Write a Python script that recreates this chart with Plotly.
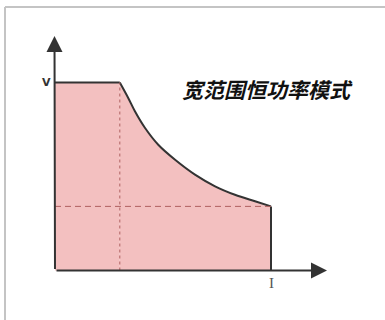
import plotly.graph_objects as go

# constant power region: current (I) vs voltage (V)
flat_current = [0, 3.0]
flat_voltage = [10, 10]
curve_current = [3.0, 3.39, 3.70, 4.17, 4.78, 5.56, 6.48, 7.41, 8.33, 9.26, 10]
curve_voltage = [10, 9.18, 8.47, 7.58, 6.69, 5.89, 5.10, 4.48, 4.03, 3.68, 3.41]
i_break = 3.0
i_max = 10
v_min = 3.41
title = "宽范围恒功率模式"

# pixel layout helpers (figure is 385x320, zero margins)
W, H = 385, 320
X0, Y0 = 55, 270.5      # origin in pixels
SX, SY = 21.6, 18.8     # pixels per unit


def px_x(p):
    return (p - X0) / SX


def px_y(p):
    return (Y0 - p) / SY


fill_col = "rgb(243,192,192)"
edge_col = "#333333"
dash_col = "rgb(175,95,95)"

fig = go.Figure()

fig.add_trace(go.Scatter(x=flat_current, y=flat_voltage, mode="lines",
                         line=dict(color=edge_col, width=2),
                         fill="tozeroy", fillcolor=fill_col, hoverinfo="skip"))
fig.add_trace(go.Scatter(x=curve_current, y=curve_voltage, mode="lines",
                         line=dict(color=edge_col, width=2, shape="spline", smoothing=1.0),
                         fill="tozeroy", fillcolor=fill_col, hoverinfo="skip"))
# right edge
fig.add_trace(go.Scatter(x=[i_max, i_max], y=[curve_voltage[-1], 0], mode="lines",
                         line=dict(color=edge_col, width=2), hoverinfo="skip"))
# dashed guides
fig.add_trace(go.Scatter(x=[i_break, i_break], y=[0, flat_voltage[-1]], mode="lines",
                         line=dict(color=dash_col, width=1, dash="3px,3px"), hoverinfo="skip"))
fig.add_trace(go.Scatter(x=[0, i_max], y=[v_min, v_min], mode="lines",
                         line=dict(color=dash_col, width=1, dash="6px,4px"), hoverinfo="skip"))

# axes with arrows
fig.add_annotation(x=px_x(54.5), y=px_y(36), ax=0, ay=0, axref="x", ayref="y",
                   xref="x", yref="y", showarrow=True, arrowhead=2, arrowsize=1.6,
                   arrowwidth=2, arrowcolor=edge_col, text="")
fig.add_annotation(x=px_x(327), y=0, ax=0, ay=0, axref="x", ayref="y",
                   xref="x", yref="y", showarrow=True, arrowhead=2, arrowsize=1.6,
                   arrowwidth=2, arrowcolor=edge_col, text="")

fig.add_annotation(x=px_x(46), y=flat_voltage[0], text="<b>V</b>", showarrow=False,
                   font=dict(family="DejaVu Sans", size=11, color="#333333"))
fig.add_annotation(x=i_max, y=px_y(283), text="I", showarrow=False,
                   font=dict(family="Liberation Serif", size=15, color="#555555"))
fig.add_annotation(x=px_x(267), y=px_y(89), text="<b><i>" + title + "</i></b>",
                   showarrow=False,
                   font=dict(family="Noto Sans CJK SC", size=21, color="#111111"))

# outer frame
fig.add_shape(type="line", xref="paper", yref="paper",
              x0=5 / W, x1=1.0, y0=1 - 7 / H, y1=1 - 7 / H,
              line=dict(color="#c4c4c4", width=2))
fig.add_shape(type="line", xref="paper", yref="paper",
              x0=5 / W, x1=5 / W, y0=0, y1=1 - 7 / H,
              line=dict(color="#c4c4c4", width=2))

fig.update_xaxes(range=[px_x(0), px_x(W)], visible=False)
fig.update_yaxes(range=[px_y(H), px_y(0)], visible=False)
fig.update_layout(width=W, height=H, margin=dict(l=0, r=0, t=0, b=0),
                  showlegend=False, plot_bgcolor="white", paper_bgcolor="white")

fig.write_html("out.html", config={"displayModeBar": False},
               post_script="document.body.style.margin='0';")
